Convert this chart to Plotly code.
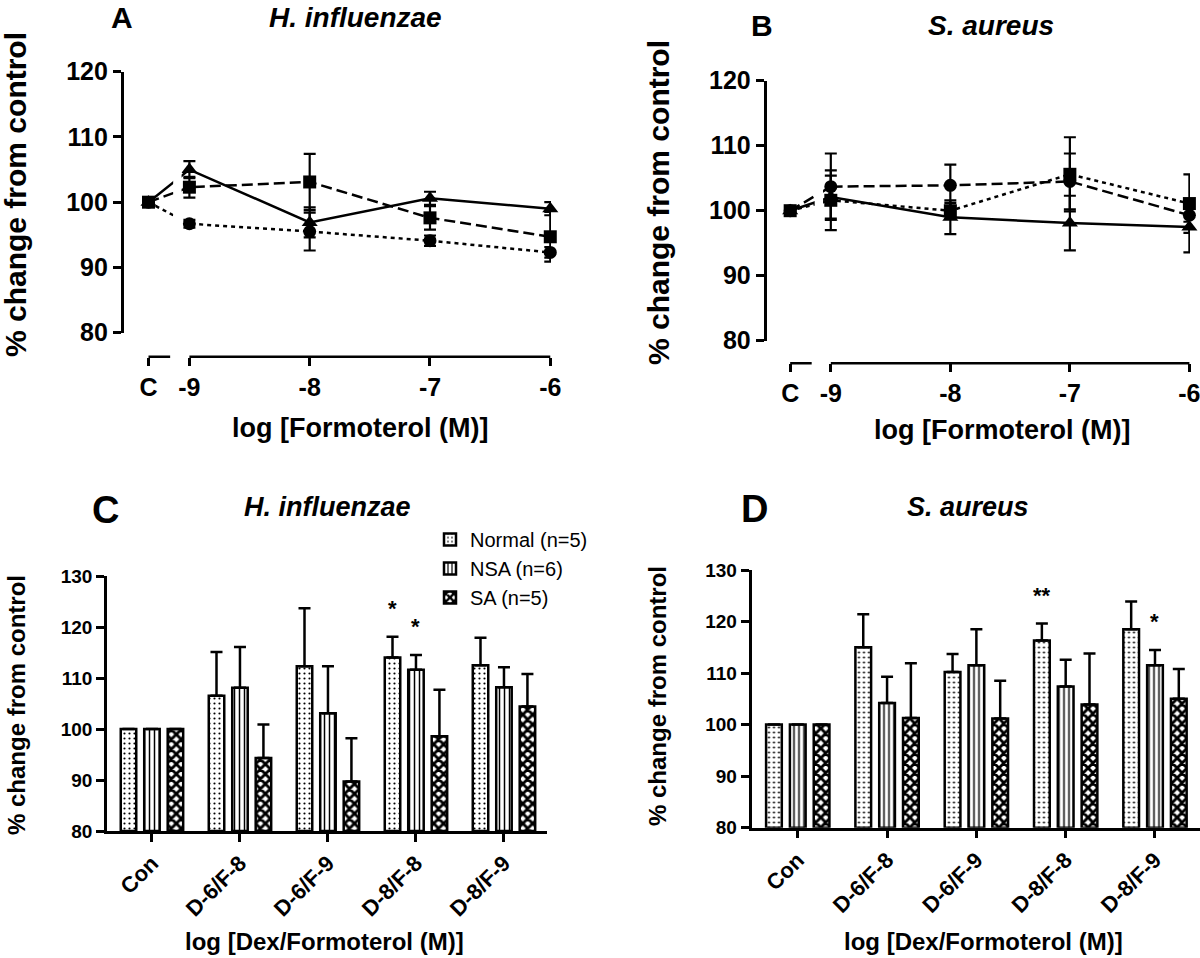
import numpy as np
import plotly.graph_objects as go

W, H = 1200, 958

# ---------------- data ----------------
log_conc = [-9, -8, -7, -6]
x_tick_labels = ["C", "-9", "-8", "-7", "-6"]
control_value = 100

# Panel A: H. influenzae, formoterol
a_tri = [105.0, 96.9, 100.6, 99.0]
a_tri_err = [1.3, 2.3, 1.0, 1.0]
a_sq = [102.3, 103.1, 97.6, 94.7]
a_sq_err = [1.6, 4.3, 1.8, 3.8]
a_circ = [96.7, 95.5, 94.1, 92.3]
a_circ_err = [0.6, 2.9, 0.8, 0.8]

# Panel B: S. aureus, formoterol
b_tri = [102.1, 99.0, 98.1, 97.5]
b_tri_err = [3.3, 2.6, 4.2, 3.9]
b_sq = [101.6, 100.0, 105.6, 101.1]
b_sq_err = [4.6, 1.2, 5.7, 4.5]
b_circ = [103.7, 103.9, 104.5, 99.3]
b_circ_err = [5.1, 3.2, 4.3, 1.0]

# Panels C/D: Dex/Formoterol combinations
categories = ["Con", "D-6/F-8", "D-6/F-9", "D-8/F-8", "D-8/F-9"]
groups = ["Normal (n=5)", "NSA (n=6)", "SA (n=5)"]

c_normal = [100, 106.5, 112.3, 114.0, 112.5]
c_normal_err = [None, 8.6, 11.4, 4.1, 5.4]
c_nsa = [100, 108.1, 103.1, 111.6, 108.2]
c_nsa_err = [None, 8.0, 9.2, 2.9, 3.9]
c_sa = [100, 94.3, 89.7, 98.6, 104.4]
c_sa_err = [None, 6.6, 8.5, 9.1, 6.4]
c_sig_normal = ["", "", "", "*", ""]
c_sig_nsa = ["", "", "", "*", ""]

d_normal = [100, 115.0, 110.2, 116.3, 118.5]
d_normal_err = [None, 6.4, 3.5, 3.3, 5.4]
d_nsa = [100, 104.2, 111.5, 107.4, 111.5]
d_nsa_err = [None, 5.1, 7.0, 5.2, 3.0]
d_sa = [100, 101.3, 101.2, 103.9, 105.0]
d_sa_err = [None, 10.6, 7.3, 9.9, 5.8]
d_sig_normal = ["", "", "", "**", ""]
d_sig_nsa = ["", "", "", "", "*"]

# ---------------- layout constants ----------------
FONT = "Liberation Sans, Arial, Helvetica, sans-serif"
CTRL_POS = -9.34
BRACKET_END = -9.16
BARGAP = 0.2
LW = 2.5


def px_x(p):
    return p / W


def px_y(p):
    return 1 - p / H


fig = go.Figure()


def line_trace(vals, errs, symbol, dash, xa, ya, size=13):
    x = [CTRL_POS] + log_conc
    y = [control_value] + vals
    e = np.array([np.nan] + errs, dtype=float)
    return go.Scatter(
        x=x, y=y, mode="lines+markers",
        line=dict(color="black", width=LW, dash=dash),
        marker=dict(symbol=symbol, size=size, color="black"),
        error_y=dict(type="data", array=e, visible=True, color="black",
                     thickness=2.2, width=6),
        xaxis=xa, yaxis=ya, showlegend=False, cliponaxis=False,
        hoverinfo="skip",
    )


DASHED = "11px,5px"
DOTTED = "4px,4px"

# Panel A
fig.add_trace(line_trace(a_circ, a_circ_err, "circle", DOTTED, "x", "y"))
fig.add_trace(line_trace(a_tri, a_tri_err, "triangle-up", "solid", "x", "y", 14))
fig.add_trace(line_trace(a_sq, a_sq_err, "square", DASHED, "x", "y"))
# Panel B
fig.add_trace(line_trace(b_circ, b_circ_err, "circle", DASHED, "x2", "y2"))
fig.add_trace(line_trace(b_tri, b_tri_err, "triangle-up", "solid", "x2", "y2", 14))
fig.add_trace(line_trace(b_sq, b_sq_err, "square", DOTTED, "x2", "y2"))

patterns = [
    dict(shape=".", fgcolor="black", bgcolor="white", size=5, solidity=0.15),
    dict(shape="|", fgcolor="black", bgcolor="white", size=5, solidity=0.3),
    dict(shape="x", fgcolor="black", bgcolor="white", size=7, solidity=0.65),
]


def bar_traces(series, errs, xa, ya, show):
    out = []
    for i, (vals, err) in enumerate(zip(series, errs)):
        e = np.array(err, dtype=float)
        out.append(go.Bar(
            x=list(range(len(categories))), y=[v - 80 for v in vals], base=80,
            name=groups[i], legendgroup=groups[i], showlegend=show,
            marker=dict(color="white", line=dict(color="black", width=LW),
                        pattern=patterns[i]),
            error_y=dict(type="data", symmetric=False, array=e,
                         arrayminus=np.zeros(len(vals)), color="black",
                         thickness=2.5, width=6),
            xaxis=xa, yaxis=ya, hoverinfo="skip",
        ))
    return out


for t in bar_traces([c_normal, c_nsa, c_sa], [c_normal_err, c_nsa_err, c_sa_err], "x3", "y3", True):
    fig.add_trace(t)
for t in bar_traces([d_normal, d_nsa, d_sa], [d_normal_err, d_nsa_err, d_sa_err], "x4", "y4", False):
    fig.add_trace(t)

tickfont_big = dict(family=FONT, size=25, color="black", weight="bold")
tickfont_small = dict(family=FONT, size=19, color="black", weight="bold")
catfont = dict(family=FONT, size=22, color="black", weight="bold")

common_y = dict(showline=True, linewidth=LW, linecolor="black", ticks="outside",
                ticklen=8, tickwidth=LW, tickcolor="black", showgrid=False,
                zeroline=False, dtick=10, automargin=False)


def line_xaxis(domain, rng, pos):
    return dict(domain=domain, range=rng, anchor="free", position=pos,
                showline=False, showgrid=False, zeroline=False, automargin=False,
                tickvals=[CTRL_POS] + log_conc, ticktext=x_tick_labels,
                ticks="outside", ticklen=8, tickwidth=LW, tickcolor="black",
                tickfont=tickfont_big, ticklabeloverflow="allow")


def bar_xaxis(domain, rng, anchor):
    return dict(domain=domain, range=rng, anchor=anchor, automargin=False,
                showline=True, linewidth=LW, linecolor="black", ticks="outside", ticklen=8,
                tickwidth=LW, tickcolor="black", tickvals=list(range(len(categories))),
                ticktext=categories, tickangle=-45, tickfont=catfont, showgrid=False,
                zeroline=False, ticklabeloverflow="allow")


A_AX = dict(left=123.6, right=551, top=71.7, bot=332.7, xline=356.7)
B_AX = dict(left=766.5, right=1190, top=80.7, bot=340.7, xline=363.3)
C_AX = dict(left=107, right=547, top=576, bot=831)
D_AX = dict(left=751.5, right=1200, top=570, bot=827.7)

fig.update_layout(
    template="none",
    xaxis=line_xaxis([px_x(A_AX["left"]), px_x(A_AX["right"])], [-9.547, -5.994], px_y(A_AX["xline"])),
    yaxis=dict(domain=[px_y(A_AX["bot"]), px_y(A_AX["top"])], range=[80, 120], anchor="x",
               tickfont=tickfont_big, **common_y),
    xaxis2=line_xaxis([px_x(B_AX["left"]), px_x(B_AX["right"])], [-9.538, -5.995], px_y(B_AX["xline"])),
    yaxis2=dict(domain=[px_y(B_AX["bot"]), px_y(B_AX["top"])], range=[80, 120], anchor="x2",
                tickfont=tickfont_big, **common_y),
    xaxis3=bar_xaxis([px_x(C_AX["left"]), px_x(C_AX["right"])], [-0.511, 4.489], "y3"),
    yaxis3=dict(domain=[px_y(C_AX["bot"]), px_y(C_AX["top"])], range=[80, 130], anchor="x3",
                tickfont=tickfont_small, **common_y),
    xaxis4=bar_xaxis([px_x(D_AX["left"]), px_x(D_AX["right"])], [-0.518, 4.504], "y4"),
    yaxis4=dict(domain=[px_y(D_AX["bot"]), px_y(D_AX["top"])], range=[80, 130], anchor="x4",
                tickfont=tickfont_small, **common_y),
    barmode="group", bargap=BARGAP, bargroupgap=0.34,
    width=W, height=H, margin=dict(l=0, r=0, t=0, b=0, autoexpand=False),
    paper_bgcolor="white", plot_bgcolor="white",
    showlegend=True,
    legend=dict(x=px_x(430), y=px_y(520), xanchor="left", yanchor="top",
                font=dict(family=FONT, size=20, color="black"),
                traceorder="grouped", tracegroupgap=0, bgcolor="rgba(0,0,0,0)",
                borderwidth=0, itemwidth=30),
)

# x-axis line segments for the broken-axis line plots, and line breaks
shapes = []
for xa, ya, ax in (("x", "y", A_AX), ("x2", "y2", B_AX)):
    ypos = px_y(ax["xline"])
    shapes.append(dict(type="line", xref=xa, yref="paper", x0=CTRL_POS, x1=BRACKET_END,
                       y0=ypos, y1=ypos, line=dict(color="black", width=LW)))
    shapes.append(dict(type="line", xref=xa, yref="paper", x0=log_conc[0], x1=log_conc[-1],
                       y0=ypos, y1=ypos, line=dict(color="black", width=LW)))
    shapes.append(dict(type="rect", xref=xa, yref=ya, x0=-9.135, x1=-9.065, y0=85, y1=118,
                       fillcolor="white", line=dict(width=0), layer="above"))
fig.update_layout(shapes=shapes)

ann = []


def text(x, y, s, size, bold=True, italic=False, angle=0, xanchor="center", yanchor="middle"):
    ann.append(dict(x=px_x(x), y=px_y(y), xref="paper", yref="paper", text=s, showarrow=False,
                    textangle=angle, xanchor=xanchor, yanchor=yanchor,
                    font=dict(family=FONT, size=size, color="black",
                              weight="bold" if bold else "normal",
                              style="italic" if italic else "normal")))


# Panel letters and titles
text(122, 18, "A", 30)
text(355, 18, "H. influenzae", 28, italic=True)
text(762, 25, "B", 30)
text(991, 25, "S. aureus", 28, italic=True)
text(105, 510, "C", 38)
text(327, 507, "H. influenzae", 27, italic=True)
text(754, 509, "D", 38)
text(968, 507, "S. aureus", 27, italic=True)

# Axis titles
text(15, 195, "% change from control", 30, angle=-90)
text(659, 203, "% change from control", 30, angle=-90)
text(16, 705, "% change from control", 24, angle=-90)
text(657, 696, "% change from control", 24, angle=-90)
text(360, 428, "log [Formoterol (M)]", 27)
text(1002, 430, "log [Formoterol (M)]", 27)
text(324, 941, "log [Dex/Formoterol (M)]", 24)
text(983, 941, "log [Dex/Formoterol (M)]", 24)

# significance marks
slot = (1 - BARGAP) / 3
for xa, ya, sig_n, sig_s, vals_n, err_n, vals_s, err_s in (
        ("x3", "y3", c_sig_normal, c_sig_nsa, c_normal, c_normal_err, c_nsa, c_nsa_err),
        ("x4", "y4", d_sig_normal, d_sig_nsa, d_normal, d_normal_err, d_nsa, d_nsa_err)):
    for i in range(len(categories)):
        for sig, vals, err, off in ((sig_n[i], vals_n, err_n, -slot), (sig_s[i], vals_s, err_s, 0)):
            if sig:
                top = vals[i] + (err[i] or 0)
                ann.append(dict(x=i + off, y=top, xref=xa, yref=ya, text=sig, showarrow=False,
                                yanchor="bottom", yshift=14,
                                font=dict(family=FONT, size=22, color="black", weight="bold")))

fig.update_layout(annotations=ann)

fig.write_html(
    "out.html",
    config={"displayModeBar": False},
    post_script="document.body.style.margin='0px';"
                "document.body.style.overflow='hidden';"
                "document.documentElement.style.overflow='hidden';",
)
